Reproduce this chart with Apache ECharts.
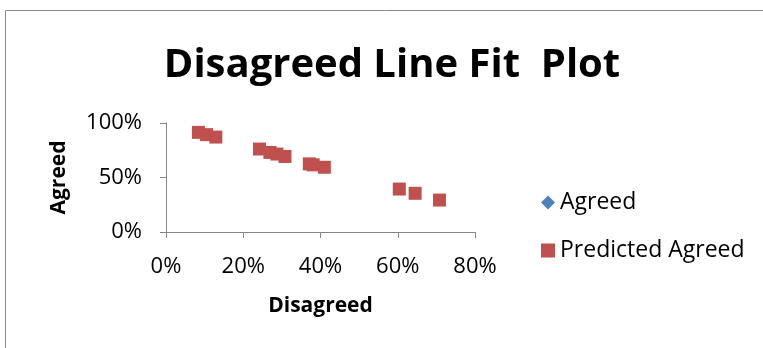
<!DOCTYPE html>
<html>
<head>
<meta charset="utf-8">
<script src="https://cdn.jsdelivr.net/npm/echarts@6/dist/echarts.min.js"></script>
<style>
  html, body { margin: 0; padding: 0; background: #fff; }
  #chart { width: 763px; height: 348px; }
</style>
</head>
<body>
<div id="chart"></div>
<script>
// Disagreed share (x) for each observation
const disagreed = [0.084, 0.105, 0.129, 0.242, 0.269, 0.287, 0.308, 0.371, 0.381, 0.410, 0.604, 0.645, 0.708];
// Observed agreed share
const agreed = [0.914, 0.893, 0.871, 0.761, 0.730, 0.715, 0.693, 0.625, 0.616, 0.594, 0.394, 0.355, 0.293];
// Agreed share predicted by the regression line
const predictedAgreed = [0.914, 0.893, 0.871, 0.761, 0.730, 0.715, 0.693, 0.625, 0.616, 0.594, 0.394, 0.355, 0.293];

const xTicks = { min: 0, max: 0.8, interval: 0.2 };
const yTicks = { min: 0, max: 1, interval: 0.5 };

const font = '"Open Sans", sans-serif';
const pct = v => Math.round(v * 100) + '%';

const chart = echarts.init(document.getElementById('chart'));
chart.setOption({
  backgroundColor: '#ffffff',
  animation: false,
  textStyle: { fontFamily: font },
  graphic: [{
    type: 'rect',
    shape: { x: 5.5, y: 10.5, width: 900, height: 500 },
    style: { fill: 'none', stroke: '#8c8c8c', lineWidth: 1 },
    silent: true
  }],
  title: {
    text: 'Disagreed Line Fit  Plot',
    left: 387, top: 41, textAlign: 'center',
    textStyle: { fontFamily: font, fontSize: 40, fontWeight: 'bold', color: '#000' }
  },
  legend: {
    orient: 'vertical',
    left: 541, top: 191,
    padding: 0,
    itemGap: 25,
    itemWidth: 14, itemHeight: 14,
    textStyle: { fontFamily: font, fontSize: 23, color: '#000' },
    data: [
      { name: 'Agreed', icon: 'diamond' },
      { name: 'Predicted Agreed', icon: 'rect' }
    ]
  },
  grid: { left: 166, top: 123, width: 309, height: 109 },
  xAxis: {
    type: 'value',
    min: xTicks.min, max: xTicks.max, interval: xTicks.interval,
    name: 'Disagreed', nameLocation: 'middle', nameGap: 64,
    nameTextStyle: { fontFamily: font, fontSize: 21, fontWeight: 'bold', color: '#000' },
    axisLine: { show: true, lineStyle: { color: '#868686', width: 1 } },
    axisTick: { show: true, length: 6, lineStyle: { color: '#868686' } },
    axisLabel: { formatter: pct, fontSize: 22, color: '#000', margin: 24 },
    splitLine: { show: false }
  },
  yAxis: {
    type: 'value',
    min: yTicks.min, max: yTicks.max, interval: yTicks.interval,
    name: 'Agreed', nameLocation: 'middle', nameGap: 96, nameRotate: 90,
    nameTextStyle: { fontFamily: font, fontSize: 21, fontWeight: 'bold', color: '#000' },
    axisLine: { show: true, lineStyle: { color: '#868686', width: 1 } },
    axisTick: { show: true, length: 6, lineStyle: { color: '#868686' } },
    axisLabel: { formatter: pct, fontSize: 22, color: '#000', margin: 24 },
    splitLine: { show: false }
  },
  series: [
    {
      name: 'Agreed', type: 'scatter', symbol: 'diamond', symbolSize: 10,
      itemStyle: { color: '#4F81BD', opacity: 1 },
      data: disagreed.map((x, i) => [x, agreed[i]])
    },
    {
      name: 'Predicted Agreed', type: 'scatter', symbol: 'rect', symbolSize: 13,
      itemStyle: { color: '#C0504D', opacity: 1 },
      data: disagreed.map((x, i) => [x, predictedAgreed[i]])
    }
  ]
});
</script>
</body>
</html>
